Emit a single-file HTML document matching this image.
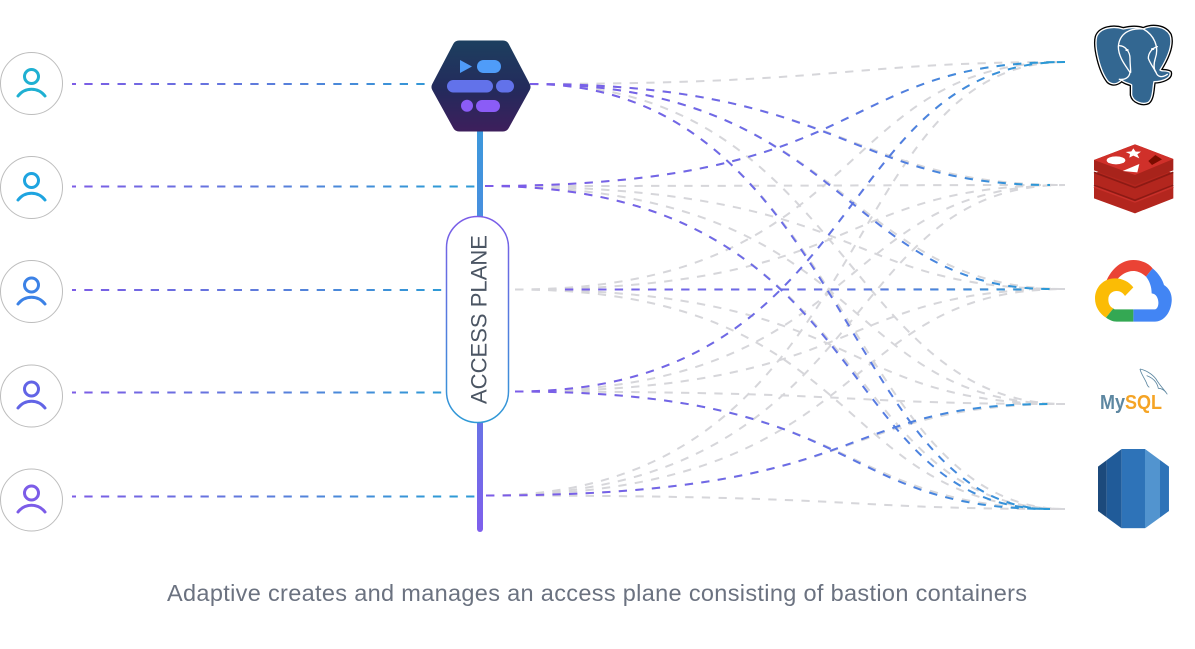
<!DOCTYPE html>
<html>
<head>
<meta charset="utf-8">
<style>
html,body{margin:0;padding:0;background:#fff;width:1195px;height:649px;overflow:hidden}
svg{display:block}
text{font-family:"Liberation Sans",sans-serif}
</style>
</head>
<body>
<svg width="1195" height="649" viewBox="0 0 1195 649" xmlns="http://www.w3.org/2000/svg">
<defs>
<linearGradient id="lg" gradientUnits="userSpaceOnUse" x1="72" y1="0" x2="440" y2="0"><stop offset="0" stop-color="#7c5ce6"/><stop offset="0.5" stop-color="#5f7bdc"/><stop offset="1" stop-color="#2f9ad6"/></linearGradient>
<linearGradient id="rg" gradientUnits="userSpaceOnUse" x1="500" y1="0" x2="1050" y2="0"><stop offset="0" stop-color="#7c5ce8"/><stop offset="0.55" stop-color="#6a6de6"/><stop offset="1" stop-color="#2a9ad6"/></linearGradient>
<linearGradient id="bar" gradientUnits="userSpaceOnUse" x1="0" y1="130" x2="0" y2="532"><stop offset="0" stop-color="#3c98dc"/><stop offset="0.55" stop-color="#5a80e2"/><stop offset="1" stop-color="#7f5fec"/></linearGradient>
<linearGradient id="pill" gradientUnits="userSpaceOnUse" x1="477" y1="216" x2="477" y2="423"><stop offset="0" stop-color="#7c5ce8"/><stop offset="1" stop-color="#2f9ad6"/></linearGradient>
<linearGradient id="hex" gradientUnits="userSpaceOnUse" x1="0" y1="41" x2="0" y2="131"><stop offset="0" stop-color="#1d3f5f"/><stop offset="0.55" stop-color="#242a5c"/><stop offset="1" stop-color="#3d1f5c"/></linearGradient>
<clipPath id="rds"><polygon points="54,335 125,282 195,282 267,335 267,468 195,520 125,520 54,468"/></clipPath>
</defs>

<!-- left dashed lines -->
<g fill="none" stroke="url(#lg)" stroke-width="2" stroke-dasharray="8.3 8.3" stroke-dashoffset="4.3">
<path d="M72 84H426"/>
<path d="M72 186.5H478"/>
<path d="M72 290H442"/>
<path d="M72 392.5H442"/>
<path d="M72 496.5H480"/>
</g>

<!-- gray lines -->
<g fill="none" stroke="#d6d6da" stroke-width="2" stroke-dasharray="8.3 8.3">
<path d="M530 84C845 84 845 62 1065 62"/>
<path d="M530 84C845 84 845 185 1065 185"/>
<path d="M530 84C845 84 845 289 1065 289"/>
<path d="M530 84C845 84 845 404 1065 404"/>
<path d="M530 84C845 84 845 509 1065 509"/>
<path d="M485 186C880 186 830 62 1065 62"/>
<path d="M485 186C880 186 830 185 1065 185"/>
<path d="M485 186C880 186 830 289 1065 289"/>
<path d="M485 186C880 186 830 404 1065 404"/>
<path d="M485 186C880 186 830 509 1065 509"/>
<path d="M515 289.5C870 289.5 830 62 1065 62"/>
<path d="M515 289.5C870 289.5 830 185 1065 185"/>
<path d="M515 289.5C870 289.5 830 289 1065 289"/>
<path d="M515 289.5C870 289.5 830 404 1065 404"/>
<path d="M515 289.5C870 289.5 830 509 1065 509"/>
<path d="M515 391.5C870 391.5 830 62 1065 62"/>
<path d="M515 391.5C870 391.5 830 185 1065 185"/>
<path d="M515 391.5C870 391.5 830 289 1065 289"/>
<path d="M515 391.5C870 391.5 830 404 1065 404"/>
<path d="M515 391.5C870 391.5 830 509 1065 509"/>
<path d="M486 495.5C880 495.5 830 62 1065 62"/>
<path d="M486 495.5C880 495.5 830 185 1065 185"/>
<path d="M486 495.5C880 495.5 830 289 1065 289"/>
<path d="M486 495.5C880 495.5 830 404 1065 404"/>
<path d="M486 495.5C880 495.5 830 509 1065 509"/>
</g>

<!-- coloured lines -->
<g fill="none" stroke="url(#rg)" stroke-width="2" stroke-dasharray="8.3 8.3">
<path d="M530 84C845 84 845 185 1050 185"/>
<path d="M530 84C845 84 845 289 1050 289"/>
<path d="M530 84C845 84 845 509 1050 509"/>
<path d="M485 186C880 186 830 62 1065 62"/>
<path d="M485 186C880 186 830 509 1050 509"/>
<path d="M565 289.5H1030"/>
<path d="M515 391.5C870 391.5 830 62 1065 62"/>
<path d="M515 391.5C870 391.5 830 509 1050 509"/>
<path d="M486 495.5C880 495.5 830 404 1050 404"/>
</g>

<!-- access plane bar + pill -->
<path d="M480 128V529" stroke="url(#bar)" stroke-width="6" stroke-linecap="round" fill="none"/>
<rect x="446.5" y="216.5" width="62" height="206" rx="31" ry="31" fill="#fff" stroke="url(#pill)" stroke-width="1.5"/>
<text transform="translate(486.5 404) rotate(-90)" font-size="22" fill="#4b5563" textLength="169">ACCESS PLANE</text>

<!-- hexagon -->
<polygon points="438,87 459,47 503,47 524,87 503,125 459,125" fill="url(#hex)" stroke="url(#hex)" stroke-width="13" stroke-linejoin="round"/>
<polygon points="460,60 472,66.5 460,73" fill="#4f9cf9"/>
<rect x="477" y="60" width="24" height="13" rx="6.5" fill="#4f9cf9"/>
<rect x="447" y="80" width="46" height="12.5" rx="6.2" fill="#6272ea"/>
<rect x="496" y="80" width="18" height="12.5" rx="6.2" fill="#6272ea"/>
<circle cx="467" cy="105.7" r="6" fill="#8b5cf6"/>
<rect x="476" y="100" width="24" height="12" rx="6" fill="#8b5cf6"/>

<!-- users -->
<g fill="#fff" stroke="#bdbdbd" stroke-width="1">
<circle cx="31.5" cy="83.5" r="31"/>
<circle cx="31.5" cy="187.5" r="31"/>
<circle cx="31.5" cy="291.5" r="31"/>
<circle cx="31.5" cy="396" r="31"/>
<circle cx="31.5" cy="500" r="31"/>
</g>
<g fill="none" stroke-width="3" stroke-linecap="round">
<g stroke="#1fb0d2"><circle cx="31.5" cy="76.5" r="7"/><path d="M18 96C25 87 38 87 45 96"/></g>
<g stroke="#1ea4e0"><circle cx="31.5" cy="180.5" r="7"/><path d="M18 200C25 191 38 191 45 200"/></g>
<g stroke="#3c82e6"><circle cx="31.5" cy="285" r="7"/><path d="M18 304C25 295 38 295 45 304"/></g>
<g stroke="#6264e6"><circle cx="31.5" cy="389" r="7"/><path d="M18 408C25 399 38 399 45 408"/></g>
<g stroke="#7c5ce8"><circle cx="31.5" cy="493" r="7"/><path d="M18 512C25 503 38 503 45 512"/></g>
</g>

<!-- postgres -->
<g transform="translate(1080 15) scale(.3333)">
<path d="M130 42C100 32 60 38 50 65C42 95 60 170 85 200C100 212 115 205 125 195C135 205 150 205 155 210L155 240C160 262 190 270 205 262C220 250 218 215 222 200C245 200 275 190 270 172C258 165 245 170 240 165C262 130 280 90 270 60C255 32 215 30 190 42C170 35 150 37 130 42Z" fill="#336791" stroke="#000" stroke-width="12" stroke-linejoin="round"/>
<path d="M130 42C100 32 60 38 50 65C42 95 60 170 85 200C100 212 115 205 125 195C135 205 150 205 155 210L155 240C160 262 190 270 205 262C220 250 218 215 222 200C245 200 275 190 270 172C258 165 245 170 240 165C262 130 280 90 270 60C255 32 215 30 190 42C170 35 150 37 130 42Z" fill="#336791" stroke="#fff" stroke-width="4" stroke-linejoin="round"/>
<g fill="none" stroke="#fff" stroke-width="4" stroke-linecap="round">
<path d="M190 42C150 38 118 55 115 95C115 125 135 150 150 172C148 188 135 195 118 193"/>
<path d="M190 42C222 60 238 95 226 130C220 150 222 165 228 172C232 185 245 190 262 178"/>
<path d="M118 92C135 92 150 110 150 130C150 145 152 160 152 172"/>
<path d="M232 95C215 100 205 115 205 130C210 145 222 160 228 172"/>
</g>
<ellipse cx="141" cy="105" rx="5" ry="3" fill="#fff"/>
<ellipse cx="218" cy="102" rx="5" ry="3" fill="#fff"/>
</g>

<!-- redis -->
<g transform="translate(1080 135) scale(.3333)">
<polygon points="42,155 165,110 280,155 280,190 165,235 42,190" fill="#b3261e"/>
<path d="M42 155L165 200L280 155" fill="none" stroke="#c9302a" stroke-width="6"/>
<path d="M42 150L165 196L280 150" fill="none" stroke="#8c1a14" stroke-width="5"/>
<polygon points="42,115 165,70 280,115 280,148 165,192 42,148" fill="#b3261e"/>
<path d="M42 112L165 158L280 112" fill="none" stroke="#8c1a14" stroke-width="5"/>
<polygon points="42,75 165,28 280,72 280,106 165,150 42,106" fill="#a8231b"/>
<polygon points="165,28 280,72 165,120 42,75" fill="#d0302a"/>
<polygon points="160,40 167,50 183,50 172,58 178,70 160,62 148,68 150,57 137,51 154,49" fill="#fff"/>
<ellipse cx="108" cy="76" rx="28" ry="12" fill="#fff"/>
<polygon points="128,108 178,87 172,112" fill="#fff"/>
<polygon points="205,78 226,60 246,73 216,90" fill="#7a0c00"/>
</g>

<!-- google cloud -->
<g transform="translate(1080 250) scale(.3333)">
<path d="M78 95C95 55 125 30 160 30C185 30 205 40 218 55L198 80C185 68 172 63 160 63C140 63 122 75 113 87C100 85 88 88 78 95Z" fill="#ea4335"/>
<path d="M218 55C238 72 248 90 252 105C268 115 277 132 275 155C272 190 250 215 225 215L160 215L160 178L225 178C240 176 240 132 215 130C215 110 208 92 198 80Z" fill="#4285f4"/>
<path d="M105 85C70 85 45 112 45 145C45 170 58 190 78 203L100 175C88 170 85 158 85 148C85 132 97 123 110 123C122 123 130 130 135 138L160 112C148 96 128 85 105 85Z" fill="#fbbc05"/>
<path d="M78 203C88 210 98 215 110 215L160 215L160 178L105 178C103 178 100 176 100 175Z" fill="#34a853"/>
</g>

<!-- mysql -->
<text x="1100" y="409" font-size="20" textLength="62" lengthAdjust="spacingAndGlyphs" font-weight="bold"><tspan fill="#5d87a1">My</tspan><tspan fill="#f5a425">SQL</tspan></text>
<g transform="translate(1080 355) scale(.3333)" fill="none" stroke="#5d87a1" stroke-width="2.5">
<path d="M180 42C195 45 215 55 228 72C238 90 250 100 262 118"/>
<path d="M180 42C182 55 195 72 200 85C202 92 205 95 208 97"/>
<path d="M200 62C222 70 232 85 235 100C245 100 252 105 258 112"/>
</g>

<!-- rds -->
<g transform="translate(1080 355) scale(.3333)" clip-path="url(#rds)">
<rect x="54" y="280" width="26" height="240" fill="#1c4a7c"/>
<rect x="80" y="280" width="45" height="240" fill="#205b99"/>
<rect x="125" y="280" width="70" height="240" fill="#2e73b8"/>
<rect x="195" y="280" width="45" height="240" fill="#5294cf"/>
<rect x="240" y="280" width="27" height="240" fill="#2e73b8"/>
</g>

<text x="167" y="601" font-size="23.5" fill="#6b7280" textLength="860">Adaptive creates and manages an access plane consisting of bastion containers</text>
</svg>
</body>
</html>
